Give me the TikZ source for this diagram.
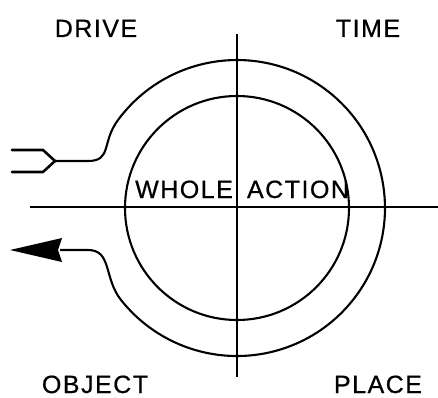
\documentclass[tikz,border=0pt]{standalone}
\usepackage{fontspec}
\setmainfont{Liberation Sans}
\newfontfamily\lbl[LetterSpace=6,FakeBold=0.6]{Liberation Sans}
\begin{document}
\begin{tikzpicture}[x=1pt,y=1pt,
  lab/.style={font=\lbl\fontsize{25}{25}\selectfont, anchor=base, inner sep=0pt},
  ring/.style={line width=2.1pt},
  axis/.style={line width=1.7pt},
  fork/.style={line width=2.6pt, line join=round, line cap=round}]
\useasboundingbox (0,0) rectangle (438,397);
\coordinate (c) at (237,189);
% cross lines
\coordinate (vt) at (237,363);
\coordinate (vb) at (237,20);
\coordinate (hl) at (30,190);
\coordinate (hr) at (438,190);
\draw[axis] (vt) -- (vb);
\draw[axis] (hl) -- (hr);
% inner circle
\draw[ring] (c) circle[radius=112];
% outer open circle with branches
\coordinate (fk) at (55,236);
\draw[ring] (118,277) arc[start angle=143.5, end angle=-141.6, radius=148]
  .. controls +(128.4:28) and (112,147) .. (88,147) -- (60,147);
\draw[ring] (118,277) .. controls +(233.5:28) and (112,236) .. (88,236) -- (fk);
\draw[fork] (fk) -- (43,247) -- (12,247);
\draw[fork] (fk) -- (43,225) -- (12,225);
% arrowhead
\fill (10,147) -- (62,159) -- (58,147) -- (62,135) -- cycle;
% labels
\node[lab] (drive) at (96,360) {DRIVE};
\node[lab] (time) at (368,360) {TIME};
\node[lab] (object) at (95,4) {OBJECT};
\node[lab] (place) at (378,4) {PLACE};
\node[lab] (whole) at (184,199) {WHOLE};
\node[lab] (action) at (298,199) {ACTION};
\end{tikzpicture}
\end{document}
